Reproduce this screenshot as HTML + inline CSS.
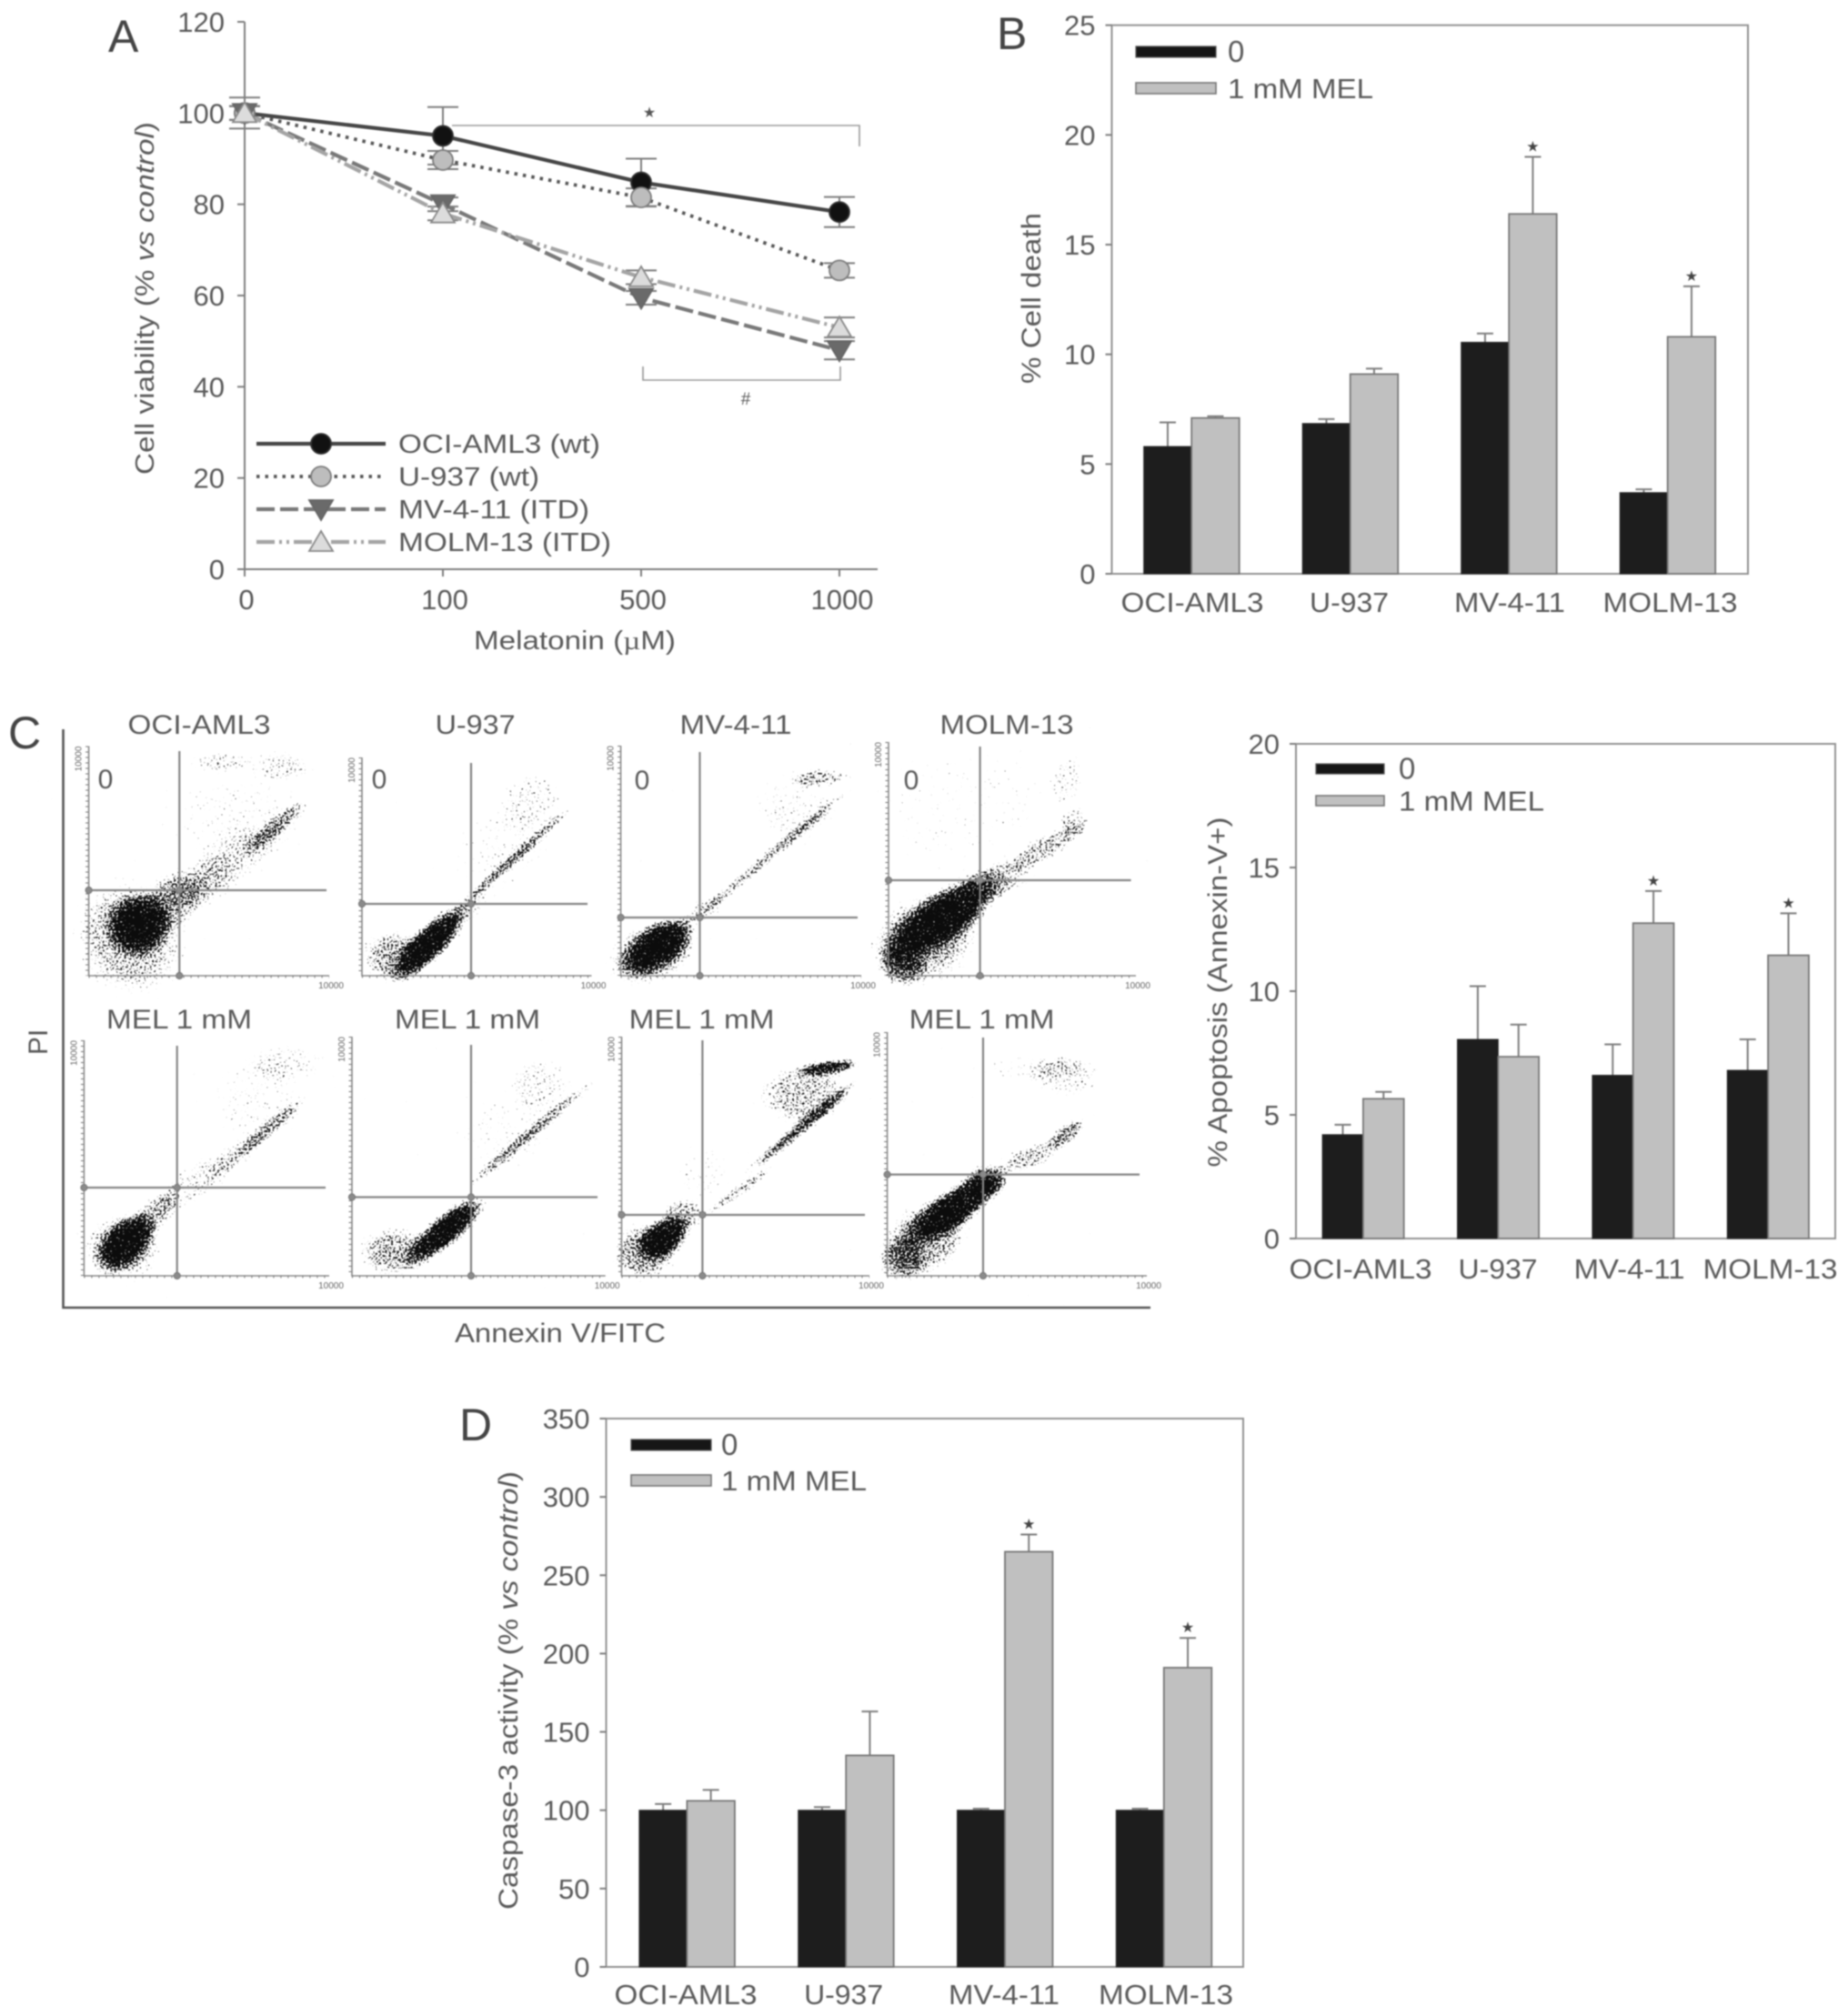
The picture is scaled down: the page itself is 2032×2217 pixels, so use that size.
<!DOCTYPE html>
<html lang="en">
<head>
<meta charset="utf-8">
<title>Melatonin viability and apoptosis panels</title>
<style>
html,body{margin:0;padding:0;background:#fff;width:2032px;height:2217px;overflow:hidden}
svg{display:block;filter:blur(.9px)}
text{font-family:"Liberation Sans",sans-serif;fill:#5a5a5a}
</style>
</head>
<body>
<svg id="fig" xmlns="http://www.w3.org/2000/svg" width="2032" height="2217" viewBox="0 0 2032 2217">
<defs>
<radialGradient id="soft">
<stop offset="0" stop-color="#000" stop-opacity="1"/>
<stop offset=".55" stop-color="#000" stop-opacity=".88"/>
<stop offset="1" stop-color="#000" stop-opacity="0"/>
</radialGradient>
<filter id="speckle" filterUnits="objectBoundingBox" x="-5%" y="-5%" width="110%" height="110%" color-interpolation-filters="sRGB">
<feGaussianBlur in="SourceAlpha" stdDeviation="1.5" result="d"/>
<feTurbulence type="fractalNoise" baseFrequency="0.46" numOctaves="2" seed="7" result="n"/>
<feComposite in="d" in2="n" operator="arithmetic" k1="0" k2="0.7" k3="1" k4="-0.9" result="a"/>
<feComponentTransfer in="a" result="t"><feFuncA type="linear" slope="14" intercept="0"/></feComponentTransfer>
<feFlood flood-color="#0c0c0c" result="c"/>
<feComposite in="c" in2="t" operator="in"/>
</filter>
</defs>
<rect width="2032" height="2217" fill="#fff"/>

<text x="119" y="57" font-size="50" style="fill:#444">A</text>
<text x="1096" y="54" font-size="50" style="fill:#444">B</text>
<text x="9" y="823" font-size="50" style="fill:#444">C</text>
<text x="505" y="1584" font-size="50" style="fill:#444">D</text>

<g id="panelA"></g>
<text transform="translate(169,328) rotate(-90)" text-anchor="middle" font-size="29" textLength="388" lengthAdjust="spacingAndGlyphs">Cell viability (% <tspan font-style="italic">vs control</tspan>)</text>
<text x="632" y="714" text-anchor="middle" font-size="29" textLength="222" lengthAdjust="spacingAndGlyphs">Melatonin (<tspan style="font-family:'Liberation Serif',serif">µ</tspan>M)</text>

<g id="panelB"></g>
<text transform="translate(1144,328) rotate(-90)" text-anchor="middle" font-size="30" textLength="188" lengthAdjust="spacingAndGlyphs">% Cell death</text>

<g id="panelC"></g>
<path d="M69.5 802V1438H1265" fill="none" stroke="#555" stroke-width="2.6"/>
<text transform="translate(52,1146) rotate(-90)" text-anchor="middle" font-size="30">PI</text>
<text x="616" y="1476" text-anchor="middle" font-size="30" textLength="232" lengthAdjust="spacingAndGlyphs">Annexin V/FITC</text>

<g id="panelC2"></g>
<text transform="translate(1349,1091) rotate(-90)" text-anchor="middle" font-size="30" textLength="385" lengthAdjust="spacingAndGlyphs">% Apoptosis (Annexin-V+)</text>

<g id="panelD"></g>
<text transform="translate(569,1859) rotate(-90)" text-anchor="middle" font-size="30" textLength="482" lengthAdjust="spacingAndGlyphs">Caspase-3 activity (% <tspan font-style="italic">vs control</tspan>)</text>
</svg>

<script>
// ---------- Panel A data ----------
const doseLabels = ['0', '100', '500', '1000'];
const viabilityTicks = [0, 20, 40, 60, 80, 100, 120];
const ociViability = [100, 95, 84.8, 78.3];
const ociError = [3.4, 6.3, 5.2, 3.3];
const u937Viability = [100, 89.7, 81.5, 65.5];
const u937Error = [1.5, 2, 2, 1.6];
const mvViability = [100, 80, 59.5, 48];
const mvError = [1.5, 1.5, 1.5, 2];
const molmViability = [100, 78, 64, 53];
const molmError = [1.5, 1.5, 1.5, 2.2];
const lineLegendLabels = ['OCI-AML3 (wt)', 'U-937 (wt)', 'MV-4-11 (ITD)', 'MOLM-13 (ITD)'];

// ---------- Bar panel data ----------
const cellLines = ['OCI-AML3', 'U-937', 'MV-4-11', 'MOLM-13'];
const deathTicks = [0, 5, 10, 15, 20, 25];
const deathControl = [5.8, 6.85, 10.55, 3.7];
const deathControlTop = [6.9, 7.05, 10.95, 3.85];
const deathMel = [7.1, 9.1, 16.4, 10.8];
const deathMelTop = [7.18, 9.35, 19, 13.1];
const deathStars = [false, false, true, true];

const apoptosisTicks = [0, 5, 10, 15, 20];
const apoptosisControl = [4.2, 8.05, 6.6, 6.8];
const apoptosisControlTop = [4.6, 10.2, 7.85, 8.05];
const apoptosisMel = [5.65, 7.35, 12.75, 11.45];
const apoptosisMelTop = [5.93, 8.65, 14.05, 13.15];
const apoptosisStars = [false, false, true, true];

const caspaseTicks = [0, 50, 100, 150, 200, 250, 300, 350];
const caspaseControl = [100, 100, 100, 100];
const caspaseControlTop = [104, 102, 101, 101];
const caspaseMel = [106, 135, 265, 191];
const caspaseMelTop = [113, 163, 276, 210];
const caspaseStars = [false, false, true, true];

// ---------- Flow cytometry populations, in % of each plot's axes:
// centre x, centre y, spread x, spread y, tilt, density
const flowOciControl = [[17,17,17,20,-30,.5],[20.5,22,10,10,-40,1],[35,32,12,9,-35,.45],[45,40,15,8,-25,.33],[60,50,18,8,-35,.28],[78,65,13,3,-40,.5],[62,68,24,16,0,.22],[55,93,10,3.5,0,.38],[80,91,10,5,0,.35]];
const flowU937Control = [[14,9,11,9,0,.55],[29.5,15,17,6,-45,1],[48,32,8,4,-42,.35],[66.5,54,27,2,-42,.58],[74,80,11,11,0,.3],[60,58,16,15,0,.22]];
const flowMvControl = [[13,10,15,10,-20,.55],[15.4,12.7,13,7,-35,1],[35,29,8,4,-30,.38],[63,53,33,2,-40,.55],[72,72,14,12,0,.25],[83,86,10,3,-3,.48]];
const flowMolmControl = [[6,5,7,7,0,.58],[15,16,18,14,-30,.58],[22,25,22,8,-35,1],[45,41,12,6,-20,.42],[64,55,14,4,-30,.5],[75,66,5,5,0,.38],[72,84,5,9,0,.32],[30,73,28,22,0,.16]];
const flowOciMel = [[15.6,12,13,11,0,.45],[17,14,11,7,-45,1],[28.5,26,10,5,-45,.5],[46,40,15,6,-35,.33],[62,51,12,4,-38,.3],[75,62,15,2.5,-40,.5],[69,74,17,13,0,.22],[81.5,90,13,6,0,.32]];
const flowU937Mel = [[17,10,11,8,0,.55],[37,19,15,5,-40,1],[70,59,27,2,-40,.55],[74,80,10,9,0,.32],[60,59,17,14,0,.2]];
const flowMvMel = [[9,10,10,9,0,.58],[17,16,9,6,-35,1],[25,26,7,5,0,.5],[48,36,14,1.8,-35,.5],[73,62.5,23,2.2,-40,.72],[73,76,14,10,0,.48],[83.5,87,10,2.4,-8,.85],[33,43,9,9,0,.22]];
const flowMolmMel = [[6,6.5,7,7,0,.5],[14.5,15,14,11,-30,.55],[26,28,18,6,-35,1],[38,39,6,5,0,.7],[54.5,48.5,10,4,-20,.48],[69,58,7,3,-35,.62],[69,82,11,7,0,.33],[54,85,17,4,0,.24]];

const NS = 'http://www.w3.org/2000/svg';
const INK = '#7d7d7d';

function mk(parent, tag, attrs) {
  const el = document.createElementNS(NS, tag);
  for (const k in attrs) el.setAttribute(k, attrs[k]);
  parent.appendChild(el);
  return el;
}

// ---------- Panel A ----------
(function () {
  const g = document.getElementById('panelA');
  const xA = i => 269 + i * 218;
  const yA = v => 626 - v * (626 - 24) / 120;

  let el = mk(g, 'path', { d: `M269 ${yA(120)}V${yA(0)}H965`, fill: 'none', stroke: INK, 'stroke-width': 2 });
  
  

  viabilityTicks.forEach(t => {
    const tick = mk(g, 'line', { x1: 261, x2: 269, y1: yA(t), y2: yA(t), stroke: INK, 'stroke-width': 2 });
    
    
    const label = mk(g, 'text', { x: 247, y: yA(t) + 11, 'text-anchor': 'end', 'font-size': 31 });
    label.textContent = t;
    
    
  });
  doseLabels.forEach((d, i) => {
    const tick = mk(g, 'line', { x1: xA(i), x2: xA(i), y1: yA(0), y2: yA(0) + 8, stroke: INK, 'stroke-width': 2 });
    
    
    const label = mk(g, 'text', { x: xA(i) + (i === 3 ? 3 : 2), y: 670, 'text-anchor': 'middle', 'font-size': 31 });
    label.textContent = d;
    
    
  });

  const series = [
    { name: 'oci-aml3', values: ociViability, err: ociError, stroke: '#454545', w: 4.2, dash: '', fill: '#111', edge: '#333', shape: 'circle' },
    { name: 'u-937', values: u937Viability, err: u937Error, stroke: '#555', w: 3.8, dash: '3.5 6', fill: '#bdbdbd', edge: '#7c7c7c', shape: 'circle' },
    { name: 'mv-4-11', values: mvViability, err: mvError, stroke: '#787878', w: 4.2, dash: '20 6', fill: '#6a6a6a', edge: '#666', shape: 'down' },
    { name: 'molm-13', values: molmViability, err: molmError, stroke: '#a4a4a4', w: 4.2, dash: '20 5 3 5 3 5', fill: '#dcdcdc', edge: '#8a8a8a', shape: 'up' }
  ];

  function marker(parent, shape, x, y, fill, edge) {
    let m;
    if (shape === 'circle') m = mk(parent, 'circle', { cx: x, cy: y, r: 11, fill: fill, stroke: edge, 'stroke-width': 1.8 });
    else if (shape === 'down') m = mk(parent, 'polygon', { points: `${x - 13},${y - 10} ${x + 13},${y - 10} ${x},${y + 12}`, fill: fill, stroke: edge, 'stroke-width': 1.8 });
    else m = mk(parent, 'polygon', { points: `${x - 13},${y + 10} ${x + 13},${y + 10} ${x},${y - 12}`, fill: fill, stroke: edge, 'stroke-width': 1.8 });
    return m;
  }

  series.forEach(s => {
    const errG = mk(g, 'g', { stroke: INK, 'stroke-width': 2, fill: 'none' });
    
    
    s.values.forEach((v, i) => {
      const x = xA(i), t = yA(v + s.err[i]), b = yA(v - s.err[i]);
      const e = mk(errG, 'path', { d: `M${x - 17} ${t}H${x + 17}M${x} ${t}V${b}M${x - 17} ${b}H${x + 17}` });
      
      
    });
  });
  series.forEach(s => {
    const line = mk(g, 'polyline', { points: s.values.map((v, i) => xA(i) + ',' + yA(v)).join(' '), fill: 'none', stroke: s.stroke, 'stroke-width': s.w, 'stroke-dasharray': s.dash });
    
    
  });
  series.forEach(s => {
    s.values.forEach((v, i) => {
      const m = marker(g, s.shape, xA(i), yA(v), s.fill, s.edge);
      
      
    });
  });

  // significance brackets
  let b = mk(g, 'path', { d: 'M497 138H945V161M707 403V418H924V403', fill: 'none', stroke: '#999', 'stroke-width': 1.6 });
  
  
  let st = mk(g, 'text', { x: 714, y: 129, 'text-anchor': 'middle', 'font-size': 16, style: 'fill:#555;font-family:"DejaVu Sans",sans-serif' });
  st.textContent = '★';
  
  
  let hs = mk(g, 'text', { x: 820, y: 445, 'text-anchor': 'middle', 'font-size': 19 });
  hs.textContent = '#';
  
  

  // legend
  const legendY = [488, 524, 560, 596];
  lineLegendLabels.forEach((lab, i) => {
    const s = series[i];
    const l = mk(g, 'line', { x1: 282, x2: 424, y1: legendY[i], y2: legendY[i], stroke: s.stroke, 'stroke-width': s.w, 'stroke-dasharray': s.dash });
    
    
    const m = marker(g, s.shape, 353, legendY[i], s.fill, s.edge);
    
    
    const t = mk(g, 'text', { x: 438, y: legendY[i] + 10, 'font-size': 29, textLength: [222, 155, 210, 234][i], lengthAdjust: 'spacingAndGlyphs' });
    t.textContent = lab;
    
    
  });
})();

// ---------- Bar panels ----------
function drawBars(cfg) {
  const g = document.getElementById(cfg.id);
  const yS = v => cfg.bottom - v * (cfg.bottom - cfg.top) / cfg.max;
  const xC = i => cfg.firstCentre + i * cfg.step;

  let f = mk(g, 'rect', { x: cfg.left, y: cfg.top, width: cfg.right - cfg.left, height: cfg.bottom - cfg.top, fill: 'none', stroke: '#929292', 'stroke-width': 2 });
  
  

  cfg.ticks.forEach(t => {
    const tick = mk(g, 'line', { x1: cfg.left - 7, x2: cfg.left, y1: yS(t), y2: yS(t), stroke: INK, 'stroke-width': 2 });
    
    
    const lab = mk(g, 'text', { x: cfg.left - 18, y: yS(t) + 11, 'text-anchor': 'end', 'font-size': 31 });
    lab.textContent = t;
    
    
  });

  cellLines.forEach((name, i) => {
    const c = xC(i);
    const e1 = mk(g, 'path', { d: `M${c - cfg.bw / 2 - 9} ${yS(cfg.ctrlTop[i])}h18M${c - cfg.bw / 2} ${yS(cfg.ctrlTop[i])}V${yS(cfg.ctrl[i])}`, fill: 'none', stroke: INK, 'stroke-width': 2 });
    
    
    const e2 = mk(g, 'path', { d: `M${c + cfg.bw / 2 - 9} ${yS(cfg.melTop[i])}h18M${c + cfg.bw / 2} ${yS(cfg.melTop[i])}V${yS(cfg.mel[i])}`, fill: 'none', stroke: INK, 'stroke-width': 2 });
    
    
    const b1 = mk(g, 'rect', { x: c - cfg.bw, y: yS(cfg.ctrl[i]), width: cfg.bw, height: yS(0) - yS(cfg.ctrl[i]), fill: '#1d1d1d', stroke: '#2a2a2a', 'stroke-width': 1 });
    
    
    const b2 = mk(g, 'rect', { x: c, y: yS(cfg.mel[i]), width: cfg.bw, height: yS(0) - yS(cfg.mel[i]), fill: '#c0c0c0', stroke: '#777', 'stroke-width': 1.8 });
    
    
    if (cfg.stars[i]) {
      const st = mk(g, 'text', { x: c + cfg.bw / 2, y: yS(cfg.melTop[i]) - 6, 'text-anchor': 'middle', 'font-size': 16, style: 'fill:#444;font-family:"DejaVu Sans",sans-serif' });
      st.textContent = '★';
      
      
    }
    const lab = mk(g, 'text', { x: cfg.labelX[i], y: cfg.labelY + 11, 'text-anchor': 'middle', 'font-size': 31, textLength: [157, 87, 122, 148][i], lengthAdjust: 'spacingAndGlyphs' });
    lab.textContent = name;
    
    
  });

  const L = cfg.legend;
  let s1 = mk(g, 'rect', { x: L.x, y: L.y1, width: L.w, height: L.h, fill: '#161616', stroke: '#555', 'stroke-width': 1.2 });
  
  
  let s2 = mk(g, 'rect', { x: L.x, y: L.y2, width: L.w, height: L.h, fill: '#c0c0c0', stroke: '#777', 'stroke-width': 1.6 });
  
  
  let t1 = mk(g, 'text', { x: L.tx, y: L.y1 + L.h / 2 + 11, 'font-size': 33 });
  t1.textContent = '0';
  
  
  let t2 = mk(g, 'text', { x: L.tx, y: L.y2 + L.h / 2 + 11, 'font-size': 31, textLength: L.tw, lengthAdjust: 'spacingAndGlyphs' });
  t2.textContent = '1 mM MEL';
  
  
}

drawBars({ id: 'panelB', left: 1222.5, right: 1922, top: 27.7, bottom: 631, max: 25, ticks: deathTicks, ctrl: deathControl, ctrlTop: deathControlTop, mel: deathMel, melTop: deathMelTop, stars: deathStars, firstCentre: 1310.2, step: 174.5, bw: 52.5, labelX: [1311, 1483.5, 1660, 1836.5], labelY: 662, legend: { x: 1249, y1: 51, y2: 91, w: 88, h: 12, tx: 1350, tw: 160 } });
drawBars({ id: 'panelC2', left: 1425, right: 2018, top: 818, bottom: 1362, max: 20, ticks: apoptosisTicks, ctrl: apoptosisControl, ctrlTop: apoptosisControlTop, mel: apoptosisMel, melTop: apoptosisMelTop, stars: apoptosisStars, firstCentre: 1498.9, step: 148.4, bw: 44.8, labelX: [1496, 1647, 1791.6, 1946.5], labelY: 1395, legend: { x: 1447, y1: 840, y2: 875, w: 75, h: 11, tx: 1538, tw: 160 } });
drawBars({ id: 'panelD', left: 666.5, right: 1367, top: 1560, bottom: 2163, max: 350, ticks: caspaseTicks, ctrl: caspaseControl, ctrlTop: caspaseControlTop, mel: caspaseMel, melTop: caspaseMelTop, stars: caspaseStars, firstCentre: 755.4, step: 174.8, bw: 52.5, labelX: [754, 927.6, 1104, 1282], labelY: 2193, legend: { x: 694, y1: 1583, y2: 1622, w: 88, h: 12, tx: 793, tw: 160 } });

// ---------- Flow cytometry plots ----------
const flowPlots = [
  { name: 'oci-aml3-control', pops: flowOciControl, l: 97.6, r: 362, t: 820.5, b: 1073, gx: 197.3, gy: 979, hEnd: 359, vTop: 826, zero: [116, 856] },
  { name: 'u-937-control', pops: flowU937Control, l: 398, r: 650.5, t: 833, b: 1073, gx: 518, gy: 994, hEnd: 646, vTop: 839, zero: [417, 856] },
  { name: 'mv-4-11-control', pops: flowMvControl, l: 682.6, r: 947, t: 820, b: 1073, gx: 769.5, gy: 1009, hEnd: 943, vTop: 827, zero: [706, 857] },
  { name: 'molm-13-control', pops: flowMolmControl, l: 977, r: 1249, t: 816, b: 1073, gx: 1077.6, gy: 968, hEnd: 1243.6, vTop: 821, zero: [1002, 857] },
  { name: 'oci-aml3-mel', pops: flowOciMel, l: 92.4, r: 362, t: 1144, b: 1403, gx: 194.7, gy: 1306, hEnd: 358, vTop: 1150 },
  { name: 'u-937-mel', pops: flowU937Mel, l: 387, r: 665.7, t: 1140, b: 1403, gx: 518, gy: 1316.5, hEnd: 657, vTop: 1149 },
  { name: 'mv-4-11-mel', pops: flowMvMel, l: 683.5, r: 956, t: 1140, b: 1403, gx: 772.4, gy: 1336, hEnd: 951, vTop: 1144 },
  { name: 'molm-13-mel', pops: flowMolmMel, l: 975.6, r: 1261, t: 1135, b: 1403, gx: 1081, gy: 1291.6, hEnd: 1253, vTop: 1141 }
];
const flowTitles = ['OCI-AML3', 'U-937', 'MV-4-11', 'MOLM-13', 'MEL 1 mM', 'MEL 1 mM', 'MEL 1 mM', 'MEL 1 mM'];

(function () {
  const g = document.getElementById('panelC');
  const titleX = [219, 522.6, 809, 1107, 197, 514, 771.6, 1079.6];
  const titleW = [157, 88, 123, 147, 160, 160, 160, 160];

  flowPlots.forEach((p, idx) => {
    const w = p.r - p.l, h = p.b - p.t;
    const xF = v => p.l + v / 100 * w;
    const yF = v => p.b - v / 100 * h;

    const title = mk(g, 'text', { x: titleX[idx], y: idx < 4 ? 807 : 1131, 'text-anchor': 'middle', 'font-size': 30, textLength: titleW[idx], lengthAdjust: 'spacingAndGlyphs' });
    title.textContent = flowTitles[idx];
    
    

    const cloud = mk(g, 'g', { filter: 'url(#speckle)' });
    
    
    const bounds = mk(cloud, 'rect', { x: p.l, y: p.t, width: w, height: h, fill: '#000', 'fill-opacity': 0 });
    
    
    p.pops.forEach(q => {
      const cx = xF(q[0]), cy = yF(q[1]);
      const pop = mk(cloud, 'ellipse', { cx: cx, cy: cy, rx: q[2] * 1.5 / 100 * w, ry: q[3] * 1.5 / 100 * h, transform: `rotate(${q[4]} ${cx} ${cy})`, fill: 'url(#soft)', 'fill-opacity': q[5] });
      
      
    });

    const axes = mk(g, 'path', { d: `M${p.l} ${p.t}V${p.b}H${p.r}`, fill: 'none', stroke: '#8a8a8a', 'stroke-width': 1.6 });
    
    
    const yt = mk(g, 'line', { x1: p.l - 2, x2: p.l - 2, y1: p.t, y2: p.b, stroke: '#777', 'stroke-width': 3, 'stroke-dasharray': '1 5' });
    
    
    const xt = mk(g, 'line', { x1: p.l, x2: p.r, y1: p.b + 1, y2: p.b + 1, stroke: '#777', 'stroke-width': 3, 'stroke-dasharray': '1 7' });
    
    

    const gate = mk(g, 'path', { d: `M${p.l} ${p.gy}H${p.hEnd}M${p.gx} ${p.vTop}V${p.b}`, fill: 'none', stroke: '#858585', 'stroke-width': 2.2 });
    
    
    [[p.l, p.gy], [p.gx, p.b], [p.gx, p.gy]].forEach(c => {
      const k = mk(g, 'circle', { cx: c[0], cy: c[1], r: 3.6, fill: '#8a8a8a', stroke: '#777', 'stroke-width': 1 });
      
      
    });

    const yMax = mk(g, 'text', { transform: `translate(${p.l - 8},${p.t + 14}) rotate(-90)`, 'text-anchor': 'middle', 'font-size': 10, style: 'fill:#666' });
    yMax.textContent = '10000';
    
    
    const xMax = mk(g, 'text', { x: p.r + 2, y: p.b + 14, 'text-anchor': 'middle', 'font-size': 10, style: 'fill:#666' });
    xMax.textContent = '10000';
    
    

    if (p.zero) {
      const z = mk(g, 'text', { x: p.zero[0], y: p.zero[1] + 11, 'text-anchor': 'middle', 'font-size': 30 });
      z.textContent = '0';
      
      
    }
  });
})();
</script>
</body>
</html>
